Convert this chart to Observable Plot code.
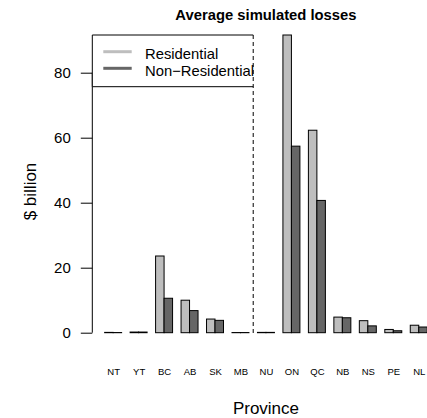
<!DOCTYPE html>
<html><head><meta charset="utf-8">
<script src="https://cdn.jsdelivr.net/npm/d3@7"></script>
<script src="https://cdn.jsdelivr.net/npm/@observablehq/plot@0.6"></script>
<style>body{margin:0;background:#fff} svg{display:block}</style>
</head><body><div id="chart"></div>
<script>
const provinces = ["NT","YT","BC","AB","SK","MB","NU","ON","QC","NB","NS","PE","NL"];
const residential = [0.1,0.2,23.6,10.0,4.2,0.05,0.1,91.6,62.3,4.8,3.7,1.0,2.3];
const nonResidential = [0.05,0.2,10.6,6.8,3.8,0.05,0.1,57.4,40.7,4.6,2.1,0.6,1.75];
const series = ["Residential","Non\u2212Residential"];
const seriesColors = ["#bebebe","#666666"];
const yTicks = [0,20,40,60,80];
const dividerAfter = "MB";
const title = "Average simulated losses";
const xLabel = "Province";
const yLabel = "$ billion";

const W=427,H=418, ML=92.3, MR=-12.6, MT=35, MB=85.3;
const padIn=1/3, padOut=0.485;
const band = d3.scaleBand().domain(provinces).range([ML, W-MR]).paddingInner(padIn).paddingOuter(padOut);
const half = band.bandwidth()/2;
const FONT = "'Liberation Sans', Arial, Helvetica, sans-serif";

const rows = provinces.map((p,i)=>({province:p, res:residential[i], non:nonResidential[i]}));

const plot = Plot.plot({
  width: W, height: H, marginLeft: ML, marginRight: MR, marginTop: MT, marginBottom: MB,
  style: {fontFamily: FONT, background:"white", overflow:"hidden", color:"#000"},
  x: {domain: provinces, paddingInner: padIn, paddingOuter: padOut, round:false},
  y: {domain: [0, d3.max(residential.concat(nonResidential))]},
  marks: [
    Plot.barY(rows, {x:"province", y:"res", fill:seriesColors[0], stroke:"#000", strokeWidth:1, insetLeft:0, insetRight:half}),
    Plot.barY(rows, {x:"province", y:"non", fill:seriesColors[1], stroke:"#000", strokeWidth:1, insetLeft:half, insetRight:0}),
    Plot.axisY({ticks:yTicks, tickSize:11.5, tickPadding:10.5, fontSize:15, label:null, anchor:"left", stroke:"#000", fill:"#000"}),
    Plot.axisX({tickSize:0, tickPadding:34.6, fontSize:9.5, label:null, fill:"#000"})
  ]
});
document.getElementById("chart").appendChild(plot);

const svg = d3.select(plot);
const y = plot.scale("y");
const xs = plot.scale("x");
// y axis line
svg.append("line").attr("x1",ML).attr("x2",ML).attr("y1",y.apply(yTicks[0])).attr("y2",y.apply(yTicks[yTicks.length-1]))
  .attr("stroke","#000").attr("stroke-width",1);
// divider
const step = xs.step, bw = xs.bandwidth;
const divX = xs.apply(dividerAfter) + bw + (step-bw)/2;
// legend
const lg = svg.append("g").attr("text-anchor","start");
lg.append("rect").attr("x",ML).attr("y",MT).attr("width",divX-ML).attr("height",51.7).attr("fill","white").attr("stroke","none");
lg.append("path").attr("d",`M${divX},${MT}H${ML}V${MT+51.7}H${divX}`).attr("fill","none").attr("stroke","#000").attr("stroke-width",1);
series.forEach((s,i)=>{
  const yy = MT + 16.7 + i*16.6;
  lg.append("line").attr("x1",103.3).attr("x2",131.7).attr("y1",yy).attr("y2",yy).attr("stroke",seriesColors[i]).attr("stroke-width",3);
  lg.append("text").attr("x",145).attr("y",yy+7.4).attr("text-anchor","start").attr("font-size",14.8).attr("fill","#000").text(s);
});
svg.append("line").attr("x1",divX).attr("x2",divX).attr("y1",MT).attr("y2",335)
  .attr("stroke","#000").attr("stroke-width",1).attr("stroke-dasharray","4,3");
// title and labels
const cx = (ML + W - MR)/2;
svg.append("text").attr("x",cx).attr("y",19.5).attr("text-anchor","middle").attr("font-weight","bold").attr("font-size",14.8).attr("fill","#000").text(title);
svg.append("text").attr("x",cx).attr("y",414).attr("text-anchor","middle").attr("font-size",17).attr("fill","#000").text(xLabel);
svg.append("text").attr("transform",`translate(36,191.5) rotate(-90)`).attr("text-anchor","middle").attr("font-size",17).attr("fill","#000").text(yLabel);
</script></body></html>
